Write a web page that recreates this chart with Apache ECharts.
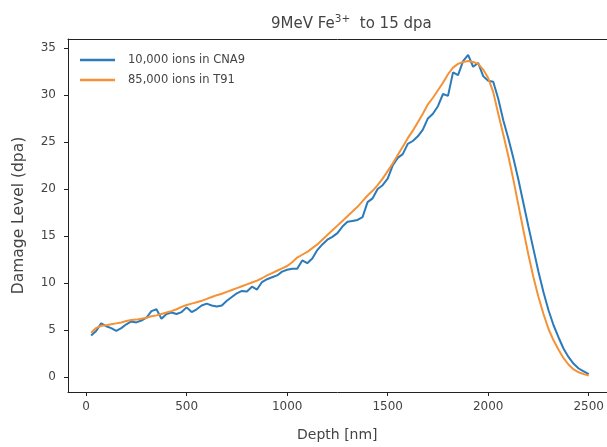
<!DOCTYPE html>
<html>
<head>
<meta charset="utf-8">
<script src="https://cdn.jsdelivr.net/npm/echarts@6/dist/echarts.min.js"></script>
<style>html,body{margin:0;padding:0;background:#fff;}#c{width:607px;height:447px;}</style>
</head>
<body>
<div id="c"></div>
<script>
const depth = [
  25,50,75,100,125,150,175,200,225,250,
  275,300,325,350,375,400,425,450,475,500,
  525,550,575,600,625,650,675,700,725,750,
  775,800,825,850,875,900,925,950,975,1000,
  1025,1050,1075,1100,1125,1150,1175,1200,1225,1250,
  1275,1300,1325,1350,1375,1400,1425,1450,1475,1500,
  1525,1550,1575,1600,1625,1650,1675,1700,1725,1750,
  1775,1800,1825,1850,1875,1900,1925,1950,1975,2000,
  2025,2050,2075,2100,2125,2150,2175,2200,2225,2250,
  2275,2300,2325,2350,2375,2400,2425,2450,2475,2500
];
const cna9 = [
  4.4,4.9,5.7,5.4,5.2,4.9,5.2,5.6,5.9,5.8,
  6.0,6.3,7.0,7.2,6.2,6.7,6.85,6.7,6.9,7.4,
  6.9,7.2,7.6,7.8,7.6,7.5,7.6,8.1,8.5,8.9,
  9.15,9.1,9.6,9.3,10.1,10.4,10.6,10.8,11.2,11.4,
  11.5,11.5,12.4,12.1,12.6,13.5,14.1,14.6,14.9,15.3,
  16.0,16.5,16.6,16.7,17.0,18.6,19.0,20.0,20.4,21.1,
  22.5,23.3,23.7,24.8,25.1,25.6,26.3,27.5,28.0,28.8,
  30.1,29.9,32.4,32.1,33.6,34.25,33.0,33.4,32.0,31.5,
  31.4,29.6,27.3,25.4,23.3,21.0,18.5,16.0,13.6,11.2,
  9.0,7.1,5.5,4.2,3.0,2.1,1.4,0.9,0.6,0.3
];
const t91 = [
  4.7,5.2,5.45,5.5,5.6,5.7,5.8,5.95,6.05,6.1,
  6.2,6.3,6.45,6.55,6.7,6.85,7.0,7.2,7.45,7.65,
  7.8,7.95,8.1,8.3,8.5,8.7,8.85,9.05,9.25,9.45,
  9.65,9.85,10.05,10.25,10.5,10.8,11.05,11.3,11.55,11.8,
  12.2,12.7,13.0,13.3,13.7,14.1,14.6,15.1,15.6,16.1,
  16.6,17.1,17.6,18.1,18.7,19.3,19.8,20.4,21.1,21.9,
  22.7,23.6,24.5,25.4,26.2,27.1,28.0,29.0,29.7,30.5,
  31.3,32.2,32.9,33.3,33.5,33.6,33.5,33.3,32.7,31.8,
  30.3,28.0,25.8,23.5,21.0,18.3,15.6,13.0,10.6,8.5,
  6.7,5.1,3.9,2.9,2.0,1.3,0.8,0.5,0.3,0.15
];
const xTicks = [0,500,1000,1500,2000,2500];
const yTicks = [0,5,10,15,20,25,30,35];
const seriesNames = ['10,000 ions in CNA9','85,000 ions in T91'];

const FONT = 'DejaVu Sans';
const TXT = '#444';
const X_MIN = -90, X_MAX = 2589;
const chart = echarts.init(document.getElementById('c'), null, {renderer:'canvas'});
chart.setOption({
  animation:false,
  backgroundColor:'#fff',
  title:{
    text:'{a|9MeV Fe}{s|3+}{a|  to 15 dpa}',
    left:266, top:9,
    textStyle:{
      rich:{
        a:{fontFamily:FONT,fontSize:15,fontWeight:'normal',color:TXT},
        s:{fontFamily:FONT,fontSize:10.5,fontWeight:'normal',color:TXT,padding:[0,0,9,0]}
      }
    }
  },
  legend:{
    left:75, top:48, orient:'vertical', itemGap:6,
    icon:'rect', itemWidth:35, itemHeight:2.5,
    textStyle:{fontFamily:FONT,fontSize:11.5,color:TXT,lineHeight:14,padding:[0,0,0,8]},
    data:seriesNames
  },
  grid:{left:68, right:0, top:39, bottom:54, show:false},
  xAxis:[{
    type:'value', min:X_MIN, max:X_MAX,
    name:'Depth [nm]', nameLocation:'middle', nameGap:36,
    nameTextStyle:{fontFamily:FONT,fontSize:14,color:TXT},
    axisLine:{show:true,onZero:false,lineStyle:{color:'#222',width:1}},
    axisTick:{show:true,length:4,lineStyle:{color:'#222'},customValues:xTicks},
    axisLabel:{fontFamily:FONT,fontSize:12,color:TXT,margin:9,customValues:xTicks,formatter:v=>String(v)},
    splitLine:{show:false}
  },{
    type:'value', min:X_MIN, max:X_MAX, position:'top',
    axisLine:{show:true,onZero:false,lineStyle:{color:'#222',width:1}},
    axisTick:{show:false}, axisLabel:{show:false}, splitLine:{show:false}
  }],
  yAxis:{
    type:'value', min:-1.6, max:35.95,
    name:'Damage Level (dpa)', nameLocation:'middle', nameGap:41,
    nameTextStyle:{fontFamily:FONT,fontSize:15.5,color:TXT},
    axisLine:{show:true,onZero:false,lineStyle:{color:'#222',width:1}},
    axisTick:{show:true,length:4,lineStyle:{color:'#222'},customValues:yTicks},
    axisLabel:{fontFamily:FONT,fontSize:12,color:TXT,margin:12,customValues:yTicks,formatter:v=>String(v)},
    splitLine:{show:false}
  },
  series:[
    {name:seriesNames[0], type:'line', showSymbol:false, symbol:'none', xAxisIndex:0,
     lineStyle:{color:'#2b7bba',width:2}, itemStyle:{color:'#2b7bba'},
     data:depth.map((d,i)=>[d,cna9[i]])},
    {name:seriesNames[1], type:'line', showSymbol:false, symbol:'none', xAxisIndex:0,
     lineStyle:{color:'#f59236',width:2}, itemStyle:{color:'#f59236'},
     data:depth.map((d,i)=>[d,t91[i]])}
  ]
});
</script>
</body>
</html>
